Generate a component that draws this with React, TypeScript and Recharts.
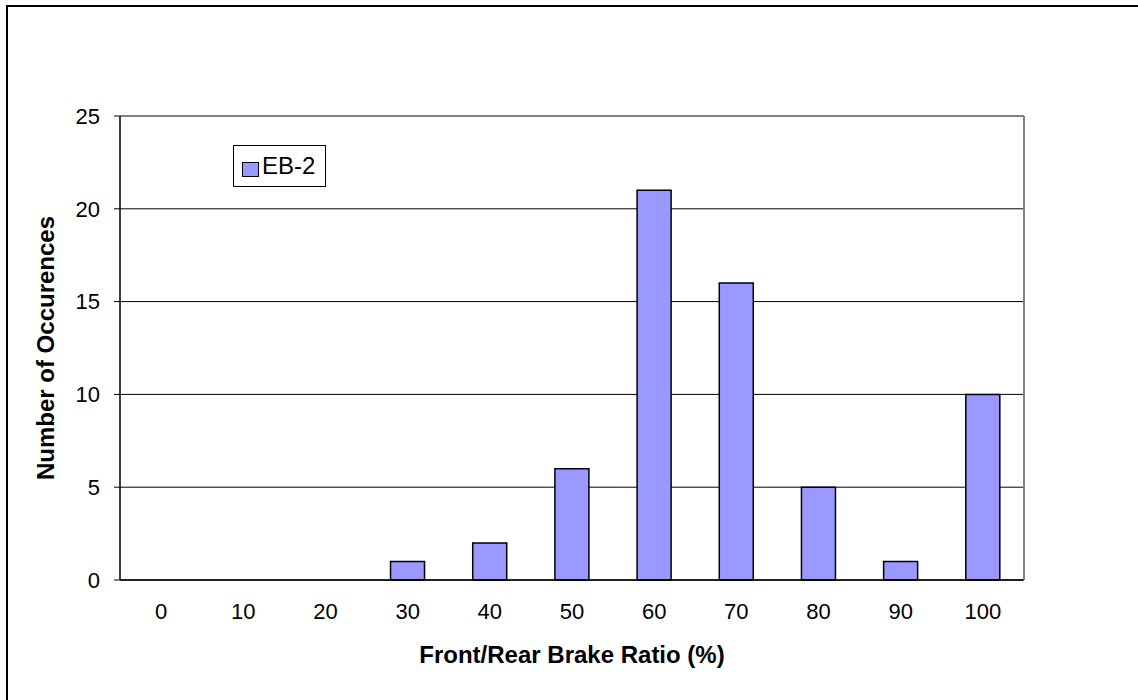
import { BarChart, Bar, XAxis, YAxis, CartesianGrid, Legend } from 'recharts';

// brake ratio bins (%) and how often each one came up
const ratios = ['0', '10', '20', '30', '40', '50', '60', '70', '80', '90', '100'];
const eb2Counts = [0, 0, 0, 1, 2, 6, 21, 16, 5, 1, 10];
const yTicks = [0, 5, 10, 15, 20, 25];

const seriesName = 'EB-2';
const xTitle = 'Front/Rear Brake Ratio (%)';
const yTitle = 'Number of Occurences';

const FONT = '"Liberation Sans", Arial, sans-serif';
const BAR_COLOR = '#9999FF';

const data = ratios.map((r, i) => ({ ratio: r, count: eb2Counts[i] }));

const YTitle = (props: any) => {
  const { viewBox } = props;
  const cx = 45;
  const cy = viewBox.y + viewBox.height / 2;
  return (
    <text
      x={cx}
      y={cy}
      transform={`rotate(-90 ${cx} ${cy})`}
      textAnchor="middle"
      dominantBaseline="central"
      fontFamily={FONT}
      fontSize={24}
      fontWeight="bold"
      fill="#000"
    >
      {yTitle}
    </text>
  );
};

const renderLegend = () => (
  <div
    style={{
      boxSizing: 'border-box',
      width: 93,
      height: 42,
      border: '1px solid #000',
      background: '#fff',
      display: 'flex',
      alignItems: 'center',
      paddingLeft: 8,
      fontFamily: FONT,
      fontSize: 24,
      color: '#000',
    }}
  >
    <span
      style={{
        display: 'inline-block',
        boxSizing: 'border-box',
        width: 17,
        height: 15,
        background: BAR_COLOR,
        border: '1.5px solid #000',
        marginRight: 3,
        marginTop: 6,
      }}
    />
    <span>{seriesName}</span>
  </div>
);

export default function App() {
  return (
    <div style={{ position: 'fixed', left: 0, top: 0, width: 1138, height: 700, overflow: 'hidden', background: '#fff' }}>
      {/* outer chart frame, only left/top edges show in the picture */}
      <div
        style={{
          position: 'absolute',
          left: 6,
          top: 5,
          width: 1200,
          height: 800,
          borderLeft: '2px solid #000',
          borderTop: '2px solid #000',
        }}
      />
      <div style={{ position: 'absolute', left: 0, top: 0 }}>
        <BarChart
          width={1138}
          height={700}
          data={data}
          margin={{ top: 115, right: 113, left: 60, bottom: 30 }}
          barCategoryGap={0}
        >
          <CartesianGrid vertical={false} stroke="#000" strokeWidth={1} />
          <XAxis
            dataKey="ratio"
            height={90}
            tickLine={false}
            tickMargin={17}
            axisLine={{ stroke: '#000', strokeWidth: 1.5 }}
            tick={{ fontFamily: FONT, fontSize: 22, fill: '#000' }}
            label={{
              value: xTitle,
              position: 'insideBottom',
              offset: 7,
              fontFamily: FONT,
              fontSize: 24,
              fontWeight: 'bold',
              fill: '#000',
            }}
          />
          {/* top + right axes only draw the grey plot-area frame */}
          <XAxis
            xAxisId="top"
            dataKey="ratio"
            orientation="top"
            height={1}
            tick={false}
            tickLine={false}
            axisLine={{ stroke: '#808080', strokeWidth: 2 }}
          />
          <YAxis
            width={60}
            domain={[0, 25]}
            ticks={yTicks}
            interval={0}
            tickSize={6}
            tickMargin={14}
            tickLine={{ stroke: '#000' }}
            axisLine={{ stroke: '#000', strokeWidth: 1.5 }}
            tick={{ fontFamily: FONT, fontSize: 22, fill: '#000' }}
            label={<YTitle />}
          />
          <YAxis
            yAxisId="right"
            orientation="right"
            width={1}
            domain={[0, 25]}
            tick={false}
            tickLine={false}
            axisLine={{ stroke: '#808080', strokeWidth: 2 }}
          />
          <Legend
            layout="horizontal"
            verticalAlign="middle"
            align="center"
            content={renderLegend}
            wrapperStyle={{ left: 233, top: 145, width: 93, height: 42 }}
          />
          <Bar
            dataKey="count"
            name={seriesName}
            fill={BAR_COLOR}
            stroke="#000"
            strokeWidth={1.5}
            barSize={34}
            isAnimationActive={false}
          />
        </BarChart>
      </div>
    </div>
  );
}
